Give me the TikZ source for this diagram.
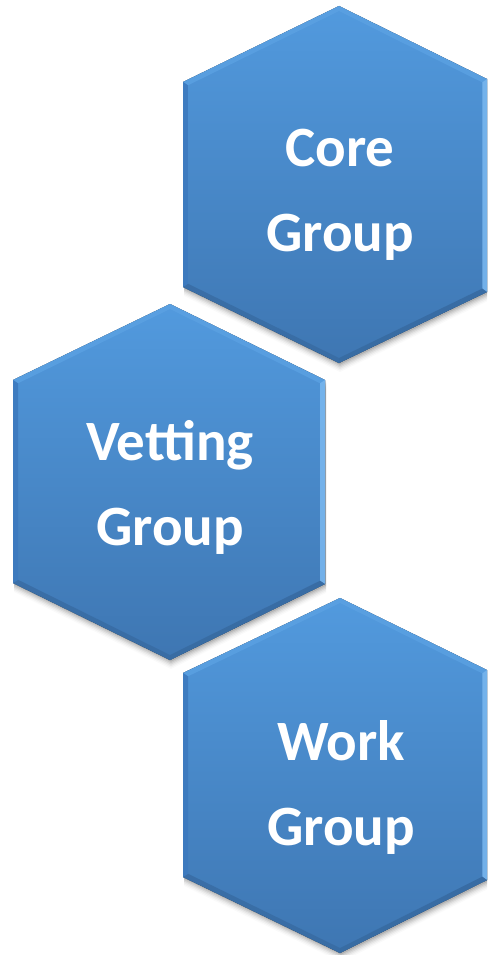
\documentclass[tikz,border=0pt]{standalone}
\usepackage{fontspec}
\setmainfont{Carlito}
\usetikzlibrary{calc}
\definecolor{hextop}{HTML}{529ADE}
\definecolor{hexbot}{HTML}{3E76B2}
\definecolor{bevlight}{HTML}{78B6EE}
\definecolor{bevtop}{HTML}{5BA1E2}
\definecolor{bevdark}{HTML}{386BA2}
\definecolor{bevleft}{HTML}{3D7ABF}
\tikzset{
  hexfill/.style={top color=hextop, bottom color=hexbot, draw=none},
  lbl/.style={text=white, align=center, inner sep=0pt,
    font=\fontsize{57}{85}\selectfont\bfseries},
}
\newcommand\drawhex[7]{%
  \coordinate (#1-a) at #2;
  \coordinate (#1-b) at #3;
  \coordinate (#1-c) at #4;
  \coordinate (#1-d) at #5;
  \coordinate (#1-e) at #6;
  \coordinate (#1-f) at #7;
  \coordinate (#1-m) at ($(#1-a)!0.5!(#1-d)$);
  \foreach \s/\o in {1.5/0.10,3/0.08,4.5/0.06,6/0.045,7.5/0.03,9/0.02}{
    \fill[black,opacity=\o] ($(#1-a)+(1,\s)$) -- ($(#1-b)+(1,\s)$) -- ($(#1-c)+(1,\s)$)
      -- ($(#1-d)+(1,\s)$) -- ($(#1-e)+(1,\s)$) -- ($(#1-f)+(1,\s)$) -- cycle;
  }
  \fill[hexfill] (#1-a) -- (#1-b) -- (#1-c) -- (#1-d) -- (#1-e) -- (#1-f) -- cycle;
  \coordinate (#1-ia) at ($(#1-m)!0.972!(#1-a)$);
  \coordinate (#1-ib) at ($(#1-m)!0.968!(#1-b)$);
  \coordinate (#1-ic) at ($(#1-m)!0.968!(#1-c)$);
  \coordinate (#1-id) at ($(#1-m)!0.972!(#1-d)$);
  \coordinate (#1-ie) at ($(#1-m)!0.968!(#1-e)$);
  \coordinate (#1-if) at ($(#1-m)!0.968!(#1-f)$);
  \fill[bevtop,opacity=0.8] (#1-f) -- (#1-a) -- (#1-ia) -- (#1-if) -- cycle;
  \fill[bevtop,opacity=0.8] (#1-a) -- (#1-b) -- (#1-ib) -- (#1-ia) -- cycle;
  \fill[bevlight,opacity=0.9] (#1-b) -- (#1-c) -- (#1-ic) -- (#1-ib) -- cycle;
  \fill[bevdark,opacity=0.9] (#1-c) -- (#1-d) -- (#1-id) -- (#1-ic) -- cycle;
  \fill[bevdark,opacity=0.8] (#1-d) -- (#1-e) -- (#1-ie) -- (#1-id) -- cycle;
  \fill[bevleft,opacity=0.9] (#1-e) -- (#1-f) -- (#1-if) -- (#1-ie) -- cycle;
}
\begin{document}
\begin{tikzpicture}[x=1pt,y=-1pt]
  \fill[white] (0,0) rectangle (487,955);
  \useasboundingbox (0,0) rectangle (487,955);
  \clip (0,0) rectangle (487,955);
  \drawhex{h1}{(339,6)}{(487,79)}{(487,292)}{(339,363)}{(183,287)}{(183,82)}
  \drawhex{h2}{(170,304)}{(325,380)}{(325,584)}{(170,660)}{(13,583)}{(13,380)}
  \drawhex{h3}{(340,598)}{(487,670)}{(487,880)}{(340,953)}{(183,877)}{(183,673)}
  \node[lbl] (core) at (340,195) {Core\\Group};
  \node[lbl] (vetting) at (170,487) {Vetting\\Group};
  \node[lbl] (work) at (341,787) {Work\\Group};
\end{tikzpicture}
\end{document}
